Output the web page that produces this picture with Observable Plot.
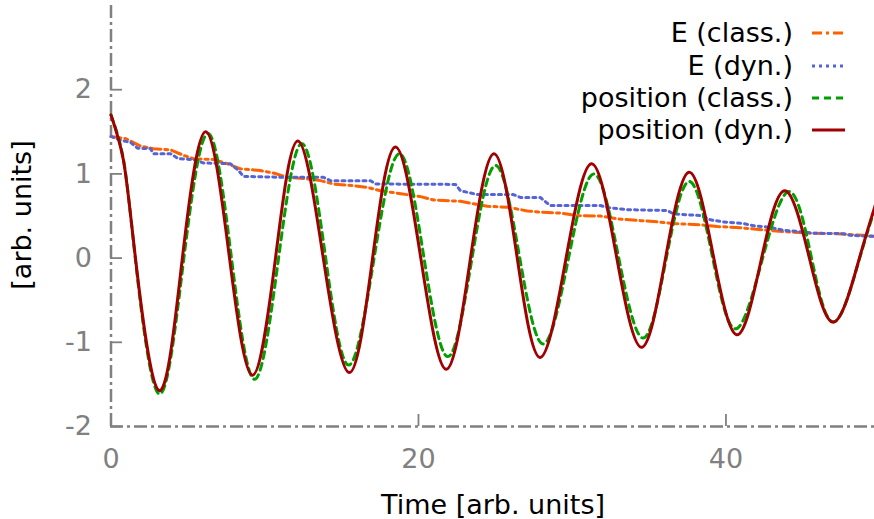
<!DOCTYPE html>
<html><head><meta charset="utf-8">
<script src="https://cdn.jsdelivr.net/npm/d3@7"></script>
<script src="https://cdn.jsdelivr.net/npm/@observablehq/plot@0.6"></script>
<style>
body{margin:0;background:#fff;}
svg{font-family:"DejaVu Sans",sans-serif;}
</style>
</head><body><div id="chart"></div>
<script>
// ---- tick labels ----
const xTicks = [0, 20, 40];
const yTicks = [-2, -1, 0, 1, 2];

// ---- series ----
const seriesNames = ["E (class.)", "E (dyn.)", "position (class.)", "position (dyn.)"];
const seriesColors = ["#ff6000", "#5464d8", "#00a000", "#a00000"];

// E (class.)
const eClassT = [0.00,0.94,1.92,2.76,3.87,4.72,5.37,6.67,7.58,8.42,9.72,10.57,11.48,12.78,13.63,14.47,15.77,16.68,17.53,18.85,20.15,20.98,22.73,23.57,24.48,25.78,27.08,27.93,29.23,30.34,31.84,32.94,34.44,35.54,36.59,38.34,39.45,40.94,42.44,43.74,45.50,47.25,48.94,50.0];
const eClassV = [1.445,1.42,1.33,1.30,1.285,1.22,1.18,1.17,1.12,1.06,1.04,1.01,0.96,0.94,0.92,0.88,0.86,0.84,0.80,0.765,0.73,0.69,0.675,0.645,0.615,0.605,0.56,0.545,0.535,0.505,0.50,0.465,0.445,0.43,0.41,0.395,0.375,0.36,0.335,0.315,0.295,0.29,0.27,0.255];

// E (dyn.)
const eDynT = [0.00,0.62,1.27,1.72,2.57,2.76,3.87,4.39,5.37,6.02,7.77,8.23,8.62,11.02,13.82,14.28,16.88,17.20,22.41,22.73,23.84,26.18,26.63,27.93,28.39,28.58,31.84,32.29,33.59,36.19,36.59,38.34,38.99,39.84,41.14,41.79,42.89,43.74,45.04,45.69,47.64,48.10,50.0];
const eDynV = [1.445,1.40,1.375,1.305,1.30,1.24,1.24,1.18,1.17,1.13,1.12,1.05,0.97,0.96,0.96,0.92,0.92,0.88,0.875,0.80,0.755,0.755,0.72,0.72,0.65,0.625,0.625,0.60,0.575,0.565,0.525,0.505,0.455,0.43,0.41,0.385,0.365,0.33,0.31,0.295,0.29,0.27,0.255];

// position (class.)
const posClassT = [0,0.8,1.55,3.1,4.7,6.3,7.82,9.33,10.87,12.4,13.93,15.45,17.1,18.75,20.33,21.9,23.45,25.0,26.55,28.1,29.75,31.4,33.0,34.6,36.1,37.6,39.1,40.6,42.35,44.1,45.55,47.0,48.65,49.8];
const posClassV = [1.70,1.18,0.045,-1.61,-0.06,1.48,0.025,-1.44,-0.04,1.36,0.045,-1.27,-0.015,1.24,0.035,-1.17,-0.035,1.10,0.04,-1.02,-0.01,1.00,0.025,-0.95,-0.02,0.91,0.035,-0.84,-0.025,0.79,0.015,-0.76,-0.03,0.65];

// position (dyn.)
const posDynT = [0,0.8,1.55,3.1,4.62,6.15,7.67,9.2,10.7,12.15,13.8,15.5,17.0,18.5,20.15,21.8,23.35,24.9,26.4,27.9,29.57,31.25,32.87,34.5,36.05,37.6,39.15,40.7,42.25,43.8,45.4,47.0,48.65,49.8];
const posDynV = [1.70,1.17,0.065,-1.57,-0.035,1.50,0.055,-1.39,0.0,1.39,0.01,-1.36,-0.02,1.32,0.0,-1.32,-0.04,1.24,0.03,-1.18,-0.03,1.12,0.03,-1.06,-0.02,1.02,0.055,-0.91,-0.055,0.80,0.02,-0.76,-0.02,0.68];

const toRows = (T, V) => T.map((t, i) => ({t, v: V[i]}));
const eClass = toRows(eClassT, eClassV);
const eDyn = toRows(eDynT, eDynV);
const posClass = toRows(posClassT, posClassV);
const posDyn = toRows(posDynT, posDynV);

const gray = "#808080";
const FS = 27;
const W = 874, H = 519, mL = 110, mT = 5, mB = 93, mR = 0;
const plotH = H - mT - mB, plotW = W - mL - mR;
const axisDash = "13,4,3,4";
const styles = [
  {stroke: seriesColors[0], strokeWidth: 3, strokeDasharray: "10,4,3,4"},
  {stroke: seriesColors[1], strokeWidth: 3, strokeDasharray: "3,4"},
  {stroke: seriesColors[2], strokeWidth: 3, strokeDasharray: "7,5"},
  {stroke: seriesColors[3], strokeWidth: 3}
];

const chart = Plot.plot({
  width: W, height: H,
  marginLeft: mL, marginRight: mR, marginTop: mT, marginBottom: mB,
  style: {fontFamily: "DejaVu Sans, sans-serif", fontSize: FS + "px", background: "#fff", overflow: "hidden"},
  x: {domain: [0, 50], range: [110.5, 879.2], axis: null},
  y: {domain: [-2, 3], axis: null},
  marks: [
    Plot.ruleY([-2], {stroke: gray, strokeWidth: 2.5, strokeDasharray: axisDash}),
    Plot.ruleX([0], {stroke: gray, strokeWidth: 2.5, strokeDasharray: axisDash}),
    Plot.tickX(xTicks, {x: d => d, stroke: gray, strokeWidth: 1.8, insetTop: plotH - 12}),
    Plot.tickY(yTicks, {y: d => d, stroke: gray, strokeWidth: 1.8, insetRight: plotW - 12}),
    Plot.text(xTicks, {x: d => d, y: -2, dy: 33, text: d => String(d), fill: gray, fontSize: FS}),
    Plot.text(yTicks, {y: d => d, x: 0, dx: -19, text: d => String(d), textAnchor: "end", fill: gray, fontSize: FS}),
    Plot.line(eClass, {x: "t", y: "v", ...styles[0]}),
    Plot.line(eDyn, {x: "t", y: "v", ...styles[1]}),
    Plot.line(posClass, {x: "t", y: "v", curve: "natural", ...styles[2]}),
    Plot.line(posDyn, {x: "t", y: "v", curve: "natural", ...styles[3]})
  ]
});

const svg = d3.select(chart);
// axis titles
svg.append("text").attr("x", 493).attr("y", 514).attr("text-anchor", "middle")
  .attr("font-size", FS).attr("fill", "#000").text("Time [arb. units]");
svg.append("text").attr("transform", "translate(31,215) rotate(-90)").attr("text-anchor", "middle")
  .attr("font-size", FS).attr("fill", "#000").text("[arb. units]");
// legend
const legY = [33, 66, 98, 130];
seriesNames.forEach((name, i) => {
  svg.append("text").attr("x", 793).attr("y", legY[i]).attr("dy", "0.35em")
    .attr("text-anchor", "end").attr("font-size", FS).attr("fill", "#000").text(name);
  const s = styles[i];
  svg.append("line").attr("x1", 812).attr("x2", 845).attr("y1", legY[i]).attr("y2", legY[i])
    .attr("stroke", s.stroke).attr("stroke-width", s.strokeWidth)
    .attr("stroke-dasharray", s.strokeDasharray || null);
});
document.getElementById("chart").appendChild(chart);
</script>
</body></html>
